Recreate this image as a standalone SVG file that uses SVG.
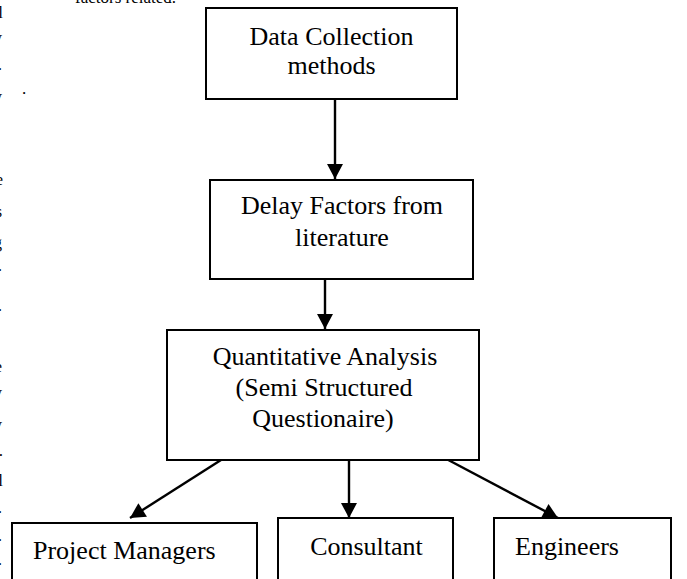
<svg xmlns="http://www.w3.org/2000/svg" width="687" height="579" viewBox="0 0 687 579">
  <style>
    .box { fill: #ffffff; stroke: #000000; stroke-width: 2; }
    .label { font-family: "Liberation Serif", "Times New Roman", serif; font-size: 26px; fill: #000000; }
    .mid { text-anchor: middle; }
    .body { font-family: "Liberation Serif", "Times New Roman", serif; font-size: 17px; fill: #000000; }
    .edge { text-anchor: end; }
    .link { stroke: #000000; stroke-width: 2.4; fill: none; marker-end: url(#head); }
  </style>
  <defs>
    <marker id="head" markerUnits="userSpaceOnUse" markerWidth="17" markerHeight="18" viewBox="0 0 16 18" refX="15" refY="9" orient="auto">
      <path d="M0,1 L15,9 L0,17 Z" fill="#000000"/>
    </marker>
  </defs>

  <rect width="687" height="579" fill="#ffffff"/>

  <!-- surrounding page text, cut by the frame -->
  <g id="page-text">
    <text class="body" x="75" y="3">factors related.</text>
    <text class="body" x="22" y="94">.</text>
    <text class="body edge" x="3" y="18">l</text>
    <text class="body edge" x="2" y="43">y</text>
    <text class="body edge" x="2" y="70">.</text>
    <text class="body edge" x="2" y="102">y</text>
    <text class="body edge" x="3" y="185">e</text>
    <text class="body edge" x="2" y="217">s</text>
    <text class="body edge" x="2" y="248">g</text>
    <text class="body edge" x="2" y="271">.</text>
    <text class="body edge" x="2" y="311">.</text>
    <text class="body edge" x="2" y="372">e</text>
    <text class="body edge" x="2" y="398">y</text>
    <text class="body edge" x="2" y="430">y</text>
    <text class="body edge" x="3" y="456">.</text>
    <text class="body edge" x="3" y="486">l</text>
    <text class="body edge" x="2" y="513">.</text>
    <text class="body edge" x="2" y="541">.</text>
    <text class="body edge" x="2" y="565">.</text>
  </g>

  <!-- connectors -->
  <g id="connectors">
    <line class="link" x1="335" y1="99" x2="335" y2="179"/>
    <line class="link" x1="325" y1="279" x2="325" y2="329"/>
    <line class="link" x1="221" y1="460" x2="130" y2="518"/>
    <line class="link" x1="349" y1="460" x2="349" y2="518"/>
    <line class="link" x1="437" y1="454" x2="558" y2="518"/>
  </g>

  <g id="data-collection">
    <rect class="box" x="206" y="8" width="251" height="91"/>
    <text class="label mid" x="331.5" y="44.5">Data Collection</text>
    <text class="label mid" x="331.5" y="73.5">methods</text>
  </g>

  <g id="delay-factors">
    <rect class="box" x="210" y="180" width="263" height="99"/>
    <text class="label mid" x="342" y="214">Delay Factors from</text>
    <text class="label mid" x="342" y="246">literature</text>
  </g>

  <g id="quantitative-analysis">
    <rect class="box" x="167" y="330" width="312" height="130"/>
    <text class="label mid" x="325" y="365">Quantitative Analysis</text>
    <text class="label mid" x="324" y="396">(Semi Structured</text>
    <text class="label mid" x="323" y="427">Questionaire)</text>
  </g>

  <g id="project-managers">
    <rect class="box" x="12" y="523" width="245" height="80"/>
    <text class="label" x="33" y="559">Project Managers</text>
  </g>

  <g id="consultant">
    <rect class="box" x="278" y="518" width="175" height="85"/>
    <text class="label mid" x="366.5" y="555">Consultant</text>
  </g>

  <g id="engineers">
    <rect class="box" x="494" y="518" width="177" height="85"/>
    <text class="label" x="515" y="555">Engineers</text>
  </g>
</svg>
